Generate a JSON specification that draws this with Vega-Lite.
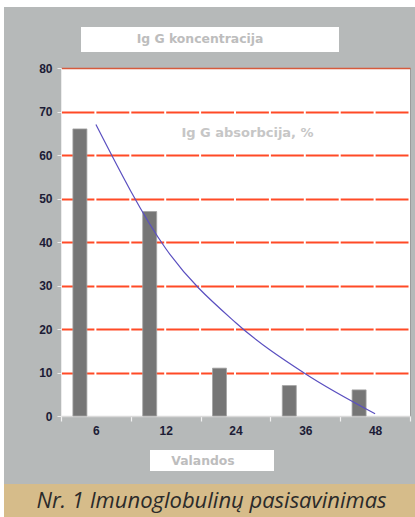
{
  "$schema": "https://vega.github.io/schema/vega-lite/v6.json",
  "background": "#B6B9B9",
  "padding": 0,
  "spacing": 0,
  "config": {"view": {"stroke": null}, "concat": {"spacing": 0}},
  "hconcat": [
    {"width": 4, "height": 517, "view": {"fill": "white"}, "data": {"values": []}, "mark": {"type": "text", "text": ""}},
    {
      "spacing": 0,
      "vconcat": [
        {"width": 411, "height": 7, "view": {"fill": "white"}, "data": {"values": []}, "mark": {"type": "text", "text": ""}},
        {"width": 411, "height": 20, "data": {"values": []}, "mark": {"type": "text", "text": ""}},
        {
          "bounds": "flush",
          "spacing": 0,
          "hconcat": [
            {"width": 77, "height": 25, "data": {"values": []}, "mark": {"type": "text", "text": ""}},
            {"width": 258, "height": 25, "view": {"fill": "white"},
             "data": {"values": [{"t": "Ig G koncentracija"}]},
             "mark": {"type": "text", "font": "DejaVu Sans", "fontWeight": "bold", "fontSize": 12.4, "color": "#BDBDBD", "dx": -10, "dy": -1},
             "encoding": {"text": {"field": "t"}}}
          ]
        },
        {"width": 411, "height": 9, "data": {"values": []}, "mark": {"type": "text", "text": ""}},
        {
          "bounds": "flush",
          "spacing": 0,
          "hconcat": [
            {"width": 57, "height": 348, "data": {"values": []}, "mark": {"type": "text", "text": ""}},
            {
              "width": 349,
              "height": 348,
              "view": {"fill": "white", "stroke": "#9C9C9C", "strokeWidth": 1},
              "data": {"values": [
                {"hour": "6", "igg": 66, "abs": 67},
                {"hour": "12", "igg": 47, "abs": 38.5},
                {"hour": "24", "igg": 11, "abs": 21.5},
                {"hour": "36", "igg": 7, "abs": 9.7},
                {"hour": "48", "igg": 6, "abs": 0.5}
              ]},
              "encoding": {
                "x": {"field": "hour", "type": "ordinal", "sort": null,
                      "scale": {"paddingInner": 0, "paddingOuter": 0},
                      "axis": {"title": null, "tickBand": "extent", "labelAngle": 0,
                               "labelFont": "Liberation Sans", "labelFontWeight": "bold", "labelFontSize": 12,
                               "labelColor": "#1C1C36", "labelPadding": 4, "tickSize": 5,
                               "tickColor": "#F2F2F2", "tickWidth": 1.2, "domainColor": "#DADADA", "domainWidth": 1.5, "grid": false}}
              },
              "layer": [
                {
                  "mark": {"type": "bar", "width": 14, "xOffset": -16, "color": "#767676", "stroke": "#A3A3A3", "strokeWidth": 0.8},
                  "encoding": {
                    "y": {"field": "igg", "type": "quantitative",
                          "scale": {"domain": [0, 80], "nice": false},
                          "axis": {"values": [0, 10, 20, 30, 40, 50, 60, 70, 80], "title": null,
                                   "labelFont": "Liberation Sans", "labelFontWeight": "bold", "labelFontSize": 12,
                                   "labelColor": "#1C1C36", "labelPadding": 5, "tickSize": 4,
                                   "tickColor": "#ECECEC", "domainColor": "#ECECEC",
                                   "grid": true,
                                   "gridColor": {"condition": {"test": "datum.value === 80", "value": "#D65A3C"}, "value": "#FF4A26"},
                                   "gridWidth": {"condition": {"test": "datum.value === 80", "value": 1.6}, "value": 2},
                                   "gridDash": {"condition": {"test": "datum.value === 80", "value": []}, "value": [32.9, 2]},
                                   "gridOpacity": {"condition": {"test": "datum.value === 0", "value": 0}, "value": 1}}}
                  }
                },
                {
                  "mark": {"type": "line", "interpolate": "monotone", "color": "#5A4FC0", "strokeWidth": 1.2},
                  "encoding": {"y": {"field": "abs", "type": "quantitative"}}
                },
                {
                  "data": {"values": [{"hour": "24", "y": 65, "label": "Ig G absorbcija, %"}]},
                  "mark": {"type": "text", "font": "DejaVu Sans", "fontWeight": "bold", "fontSize": 13, "color": "#C6C6C6", "dx": 12},
                  "encoding": {"y": {"field": "y", "type": "quantitative"}, "text": {"field": "label"}}
                }
              ]
            }
          ]
        },
        {"width": 411, "height": 13, "data": {"values": []}, "mark": {"type": "text", "text": ""}},
        {
          "bounds": "flush",
          "spacing": 0,
          "hconcat": [
            {"width": 146, "height": 21, "data": {"values": []}, "mark": {"type": "text", "text": ""}},
            {"width": 124, "height": 21, "view": {"fill": "white"},
             "data": {"values": [{"t": "Valandos"}]},
             "mark": {"type": "text", "font": "DejaVu Sans", "fontWeight": "bold", "fontSize": 12.4, "color": "#BDBDBD", "dx": -9},
             "encoding": {"text": {"field": "t"}}}
          ]
        },
        {"width": 411, "height": 13, "data": {"values": []}, "mark": {"type": "text", "text": ""}},
        {"width": 411, "height": 34, "view": {"fill": "#D6BC8A"},
         "data": {"values": [{"t": "Nr. 1 Imunoglobulinų pasisavinimas"}]},
         "mark": {"type": "text", "font": "Open Sans", "fontStyle": "italic", "fontSize": 22, "color": "#2B2B2B", "dx": 2, "dy": 0},
         "encoding": {"text": {"field": "t"}}}
      ]
    }
  ]
}
